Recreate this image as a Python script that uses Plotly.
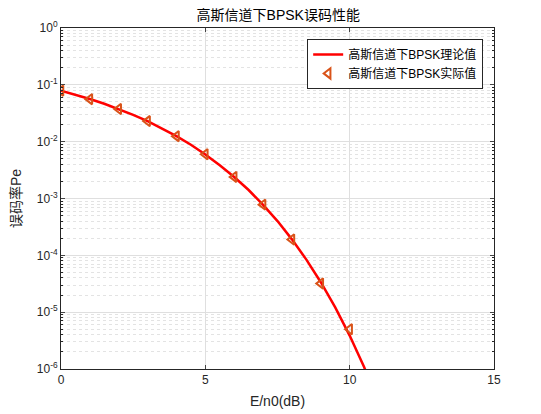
import plotly.graph_objects as go

# theoretical curve
theory_snr = [0, 0.5, 1, 1.5, 2, 2.5, 3, 3.5, 4, 4.5, 5, 5.5, 6, 6.5, 7, 7.5, 8, 8.5, 9, 9.5, 10, 10.5, 11]
theory_pe = [0.0786, 0.0671, 0.0563, 0.0464, 0.0375, 0.0296, 0.0229, 0.0172, 0.0125, 0.00882,
             0.00595, 0.00384, 0.00239, 0.00141, 0.000773, 0.000401, 0.000191, 8.4e-5,
             3.36e-5, 1.21e-5, 3.87e-6, 1.08e-6, 2.6e-7]

# simulated points (triangles)
sim_snr = [0, 1, 2, 3, 4, 5, 6, 7, 8, 9, 10]
sim_pe = [0.079, 0.056, 0.0375, 0.023, 0.0125, 0.006, 0.0024, 0.00078, 0.00019, 3.2e-5, 5e-6]

y_tickvals = [1e-6, 1e-5, 1e-4, 1e-3, 1e-2, 1e-1, 1]
y_ticktext = ["10<sup>-6</sup>", "10<sup>-5</sup>", "10<sup>-4</sup>", "10<sup>-3</sup>",
              "10<sup>-2</sup>", "10<sup>-1</sup>", "10<sup>0</sup>"]
x_tickvals = [0, 5, 10, 15]

FONT = "Liberation Sans, Arial, Noto Sans CJK SC, sans-serif"
AXIS_COLOR = "#262626"
GRID = "#dfdfdf"

fig = go.Figure()
fig.add_trace(go.Scatter(
    x=theory_snr, y=theory_pe, mode="lines",
    name="高斯信道下BPSK理论值",
    line=dict(color="#ff0000", width=2.5),
))
fig.add_trace(go.Scatter(
    x=sim_snr, y=sim_pe, mode="markers",
    name="高斯信道下BPSK实际值",
    marker=dict(symbol="triangle-left-open", color="#d95319", size=9,
                line=dict(color="#d95319", width=2)),
))

# page body has an 8px margin, so the figure is a bit smaller than the window
fig.update_layout(
    width=533, height=406,
    margin=dict(l=53, r=47, t=20, b=45),
    paper_bgcolor="white", plot_bgcolor="white",
    font=dict(family=FONT, size=12, color=AXIS_COLOR),
    title=dict(text="高斯信道下BPSK误码性能", x=0.507, xanchor="center",
               y=0.982, yanchor="middle", font=dict(size=14, color="#000000")),
    legend=dict(x=0.975, y=0.968, xanchor="right", yanchor="top",
                bgcolor="white", bordercolor="#262626", borderwidth=1,
                font=dict(size=12, color="#000000"), tracegroupgap=0,
                itemwidth=30),
    showlegend=True,
)
fig.update_xaxes(
    range=[0, 15], tickvals=x_tickvals, ticks="inside", ticklen=4,
    showline=True, linecolor=AXIS_COLOR, linewidth=1, mirror="ticks",
    showgrid=True, gridcolor=GRID, zeroline=False, automargin=False,
    title=dict(text="E/n0(dB)", font=dict(size=14), standoff=9),
)
fig.update_yaxes(
    type="log", range=[-6, 0], tickvals=y_tickvals, ticktext=y_ticktext,
    ticks="inside", ticklen=4,
    showline=True, linecolor=AXIS_COLOR, linewidth=1, mirror="ticks",
    showgrid=True, gridcolor=GRID, zeroline=False, automargin=False,
    minor=dict(dtick="D1", ticks="inside", ticklen=2, tickcolor=AXIS_COLOR,
               showgrid=True, gridcolor="#e3e3e3", griddash="dot"),
    title=dict(text="误码率Pe", font=dict(size=14), standoff=14),
)

fig.write_html("out.html")
